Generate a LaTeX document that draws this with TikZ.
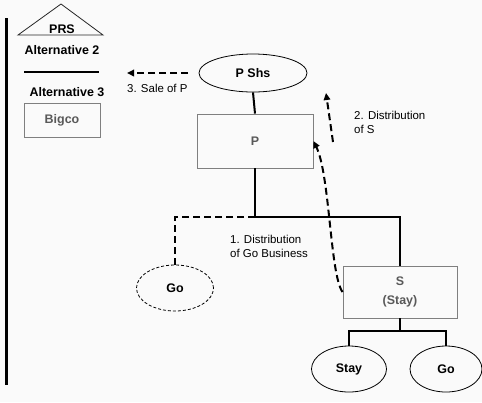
\documentclass[tikz,border=0pt]{standalone}
\usepackage{fontspec}
\setmainfont{Liberation Sans}
\usetikzlibrary{shapes.geometric,arrows.meta}
\definecolor{bg}{HTML}{FAFAFA}
\definecolor{boxline}{HTML}{7F7F7F}
\definecolor{boxtext}{HTML}{595959}
\tikzset{
  lbl/.style={font=\fontsize{11.5}{13.5}\selectfont, anchor=base west, align=left, inner sep=0pt},
  head/.style={font=\fontsize{12.5}{15}\selectfont\bfseries, inner sep=0pt},
  entity/.style={rectangle, draw=boxline, line width=0.9bp, text=boxtext,
    font=\fontsize{12.5}{19}\selectfont\bfseries, align=center, inner sep=0pt},
  holder/.style={ellipse, draw, line width=0.8bp, inner sep=0pt,
    font=\fontsize{12.5}{15}\selectfont\bfseries},
  link/.style={line width=2bp},
  bar/.style={line width=2.6bp},
  move/.style={line width=2bp, dash pattern=on 7bp off 4bp,
    -{Triangle[length=7bp,width=6.5bp]}},
  movepath/.style={line width=2bp, dash pattern=on 7bp off 4bp},
}
\begin{document}
\begin{tikzpicture}[x=1bp,y=-1bp]
\fill[bg] (0,0) rectangle (482,402);
\useasboundingbox (0,0) rectangle (482,402);

% legend column on the left
\draw[bar] (6.5,18) -- (6.5,385);
\draw[line width=0.8bp, black!85] (18,35) -- (61,4) -- (103,35) -- cycle;
\node[head] (prs) at (62,29) {PRS};
\node[head] (alt2) at (62,50) {Alternative 2};
\draw[bar] (24,72) -- (99,72);
\node[head] (alt3) at (67,92) {Alternative 3};
\node[entity, minimum width=76bp, minimum height=34bp] (bigco) at (62,120) {Bigco};

% ownership structure
\node[holder, minimum width=108bp, minimum height=38bp] (pshs) at (253,73) {P Shs};
\node[entity, minimum width=116bp, minimum height=54bp] (p) at (255,141) {P};
\node[entity, minimum width=114bp, minimum height=52bp] (s) at (400,292) {S\\(Stay)};
\node[holder, dashed, dash pattern=on 3bp off 2bp, minimum width=77bp, minimum height=46bp] (go1) at (175,288) {Go};
\node[holder, minimum width=75bp, minimum height=46bp] (stay) at (349,369) {Stay};
\node[holder, minimum width=72bp, minimum height=46bp] (go2) at (446,369) {Go};

\coordinate (j1) at (255,217);
\coordinate (j2) at (400,331);

\draw[link] (pshs.south) -- (p.north);
\draw[link] (p.south) -- (j1) -| (s.north);
\draw[link] (s.south) -- (j2);
\draw[link] (stay.north) |- (j2) -| (go2.north);

% transactions
\draw[movepath] (j1) -| (go1.north);
\draw[move] (s.west) .. controls (330,275) and (330,175) .. (p.east);
\coordinate (d2a) at (333,142);
\coordinate (d2b) at (326,93);
\draw[move] (d2a) -- (d2b);
\coordinate (d3a) at (188,73);
\coordinate (d3b) at (127,73);
\draw[move] (d3a) -- (d3b);

\node[lbl] (l1) at (230,257) {1. Distribution\\of Go Business};
\node[lbl] (l2) at (354,133) {2. Distribution\\of S};
\node[lbl] (l3) at (127,92) {3. Sale of P};
\end{tikzpicture}
\end{document}
